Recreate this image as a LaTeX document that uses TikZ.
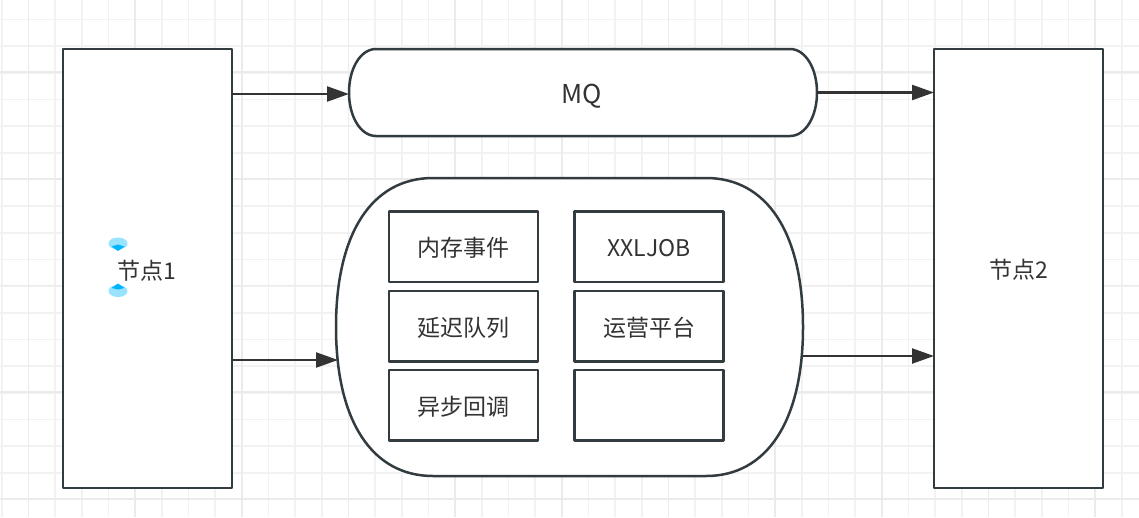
\documentclass[tikz,border=0pt]{standalone}
\usepackage{fontspec}
\setmainfont{Noto Sans CJK SC}
\usetikzlibrary{arrows.meta}
\definecolor{stroke}{HTML}{323B40}
\definecolor{ink}{HTML}{333333}
\definecolor{gridminor}{HTML}{F2F2F2}
\definecolor{gridmajor}{HTML}{EBEBEB}
\definecolor{markerlight}{HTML}{99E3FF}
\definecolor{markerdark}{HTML}{00B4FF}
\newcommand{\lowered}[1]{\raisebox{-1.6pt}[\height][\depth]{#1}}
\tikzset{
  x=1pt,y=-1pt,
  shapebox/.style={draw=stroke,line width=2.5pt,fill=white,inner sep=0pt,outer sep=0pt,text=ink,font=\fontsize{23}{27}\selectfont,line join=round},
  bigbox/.style={shapebox,minimum width=169pt,minimum height=439pt},
  cell/.style={shapebox,minimum width=149pt,minimum height=70.5pt},
  ghost/.style={inner sep=0pt,outer sep=0pt,text=ink,font=\fontsize{23}{27}\selectfont},
  flow/.style={draw=ink,line width=2.3pt,-{Triangle[length=22pt,width=15pt,fill=ink]},shorten >=0pt},
  outline/.style={draw=stroke,line width=2.5pt,fill=white},
}
\begin{document}
\begin{tikzpicture}
\useasboundingbox (0,0) rectangle (1139,517);
\fill[white] (0,0) rectangle (1139,517);
% grid
\foreach \k in {-1,0,...,42} {
  \pgfmathsetmacro{\gx}{28.4+26.67*\k}
  \draw[gridminor,line width=1.6pt] (\gx,0) -- (\gx,517);
}
\foreach \k in {-1,0,...,18} {
  \pgfmathsetmacro{\gy}{19.5+26.67*\k}
  \draw[gridminor,line width=1.6pt] (0,\gy) -- (1139,\gy);
}
\foreach \k in {0,...,10} {
  \pgfmathsetmacro{\gx}{28.4+106.68*\k}
  \draw[gridmajor,line width=1.6pt] (\gx,0) -- (\gx,517);
}
\foreach \k in {0,...,4} {
  \pgfmathsetmacro{\gy}{72.2+106.68*\k}
  \draw[gridmajor,line width=1.6pt] (0,\gy) -- (1139,\gy);
}
% outer nodes
\node[bigbox] (n1) at (147.5,268.5) {};
\node[ghost] (n1t) at (146.5,271) {节点1};
\node[bigbox] (n2) at (1018.5,268.5) {\lowered{节点2}};
% MQ
\draw[outline] (376,49) -- (790,49)
  .. controls (805.5,49) and (817,68.5) .. (817,92.5)
  .. controls (817,116.5) and (805.5,136) .. (790,136)
  -- (376,136)
  .. controls (360.5,136) and (349,116.5) .. (349,92.5)
  .. controls (349,68.5) and (360.5,49) .. (376,49) -- cycle;
\node[ghost,font=\fontsize{26}{30}\selectfont] (mq) at (582,96) {MQ};
\coordinate (mqw) at (349,94);
\coordinate (mqe) at (817,92.5);
% container
\draw[outline] (433,178) -- (706,178)
  .. controls (767,178) and (803,233) .. (803,327)
  .. controls (803,421) and (767,476) .. (706,476)
  -- (433,476)
  .. controls (372,476) and (336,421) .. (336,327)
  .. controls (336,233) and (372,178) .. (433,178) -- cycle;
\coordinate (bigw) at (338,360);
\coordinate (bige) at (803,356);
% cells
\node[cell] (c1) at (463.5,246.5) {\lowered{内存事件}};
\node[cell] (c2) at (649,246.5) {\lowered{XXLJOB}};
\node[cell] (c3) at (463.5,326) {\lowered{延迟队列}};
\node[cell] (c4) at (649,326) {\lowered{运营平台}};
\node[cell] (c5) at (463.5,405) {\lowered{异步回调}};
\node[cell] (c6) at (649,405) {};
% markers
\fill[markerlight] (118,243.5) ellipse [x radius=9.5pt,y radius=6pt];
\fill[markerdark] (111.5,246.5) -- (118,244.5) -- (124.5,246.5) -- (118,251) -- cycle;
\fill[markerlight] (118,291) ellipse [x radius=9.5pt,y radius=6pt];
\fill[markerdark] (111.5,288) -- (118,289.5) -- (124.5,288) -- (118,283.5) -- cycle;
% connectors
\draw[flow] (n1.east |- mqw) -- (mqw);
\draw[flow] (mqe) -- (n2.west |- mqe);
\draw[flow] (n1.east |- bigw) -- (bigw);
\draw[flow] (bige) -- (n2.west |- bige);
\end{tikzpicture}
\end{document}
